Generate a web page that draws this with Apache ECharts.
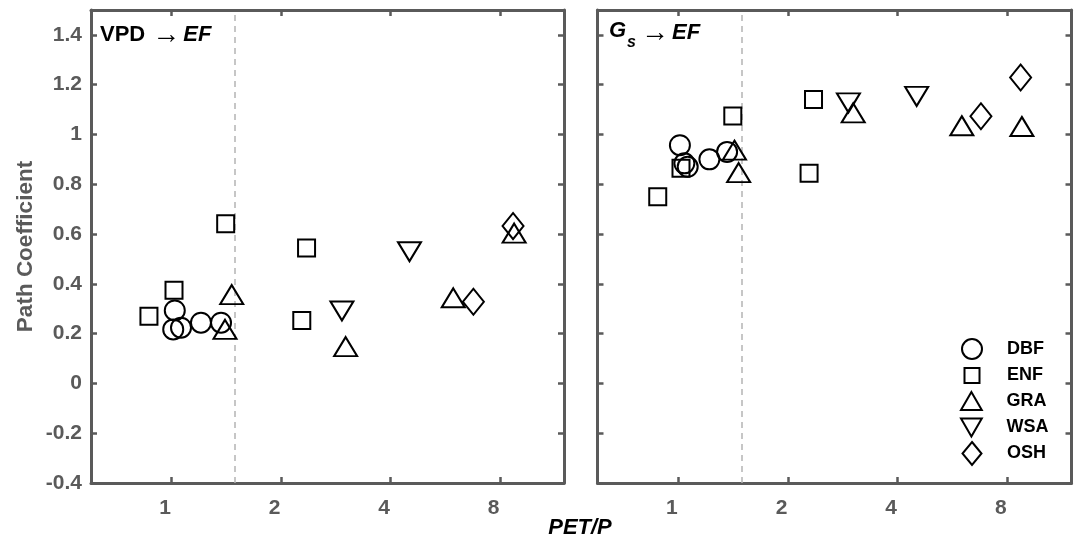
<!DOCTYPE html>
<html><head><meta charset="utf-8">
<script src="https://cdn.jsdelivr.net/npm/echarts@6/dist/echarts.min.js"></script>
<style>html,body{margin:0;padding:0;background:#fff}#c{width:1079px;height:540px}</style>
</head><body><div id="c"></div>
<script>
// ---- axes / ticks ----
const xTickValues = [1, 2, 4, 8];
const yTickValues = [-0.4, -0.2, 0, 0.2, 0.4, 0.6, 0.8, 1, 1.2, 1.4];
const xRange = [0.6, 12];
const yRange = [-0.4, 1.5];
const aridityThreshold = 1.5;
const categories = ['DBF', 'ENF', 'GRA', 'WSA', 'OSH'];

// ---- panel 1: VPD -> EF (x = PET/P, y = path coefficient) ----
const vpdDBFx = [1.02, 1.01, 1.061, 1.204, 1.367];
const vpdDBFy = [0.293, 0.217, 0.224, 0.244, 0.244];
const vpdENFx = [0.866, 1.015, 1.408, 2.35, 2.28];
const vpdENFy = [0.27, 0.374, 0.641, 0.544, 0.253];
const vpdGRAx = [1.463, 1.402, 3.01, 5.95, 8.75];
const vpdGRAy = [0.357, 0.217, 0.148, 0.344, 0.604];
const vpdWSAx = [2.94, 4.51];
const vpdWSAy = [0.291, 0.529];
const vpdOSHx = [6.76, 8.69];
const vpdOSHy = [0.328, 0.632];

// ---- panel 2: Gs -> EF ----
const gsDBFx = [1.01, 1.039, 1.061, 1.217, 1.361];
const gsDBFy = [0.957, 0.884, 0.87, 0.9, 0.93];
const gsENFx = [0.878, 1.017, 1.411, 2.35, 2.285];
const gsENFy = [0.75, 0.864, 1.074, 1.14, 0.844];
const gsGRAx = [1.426, 1.464, 3.02, 6.0, 8.77];
const gsGRAy = [0.937, 0.847, 1.087, 1.035, 1.032];
const gsWSAx = [2.93, 4.51];
const gsWSAy = [1.127, 1.153];
const gsOSHx = [6.77, 8.7];
const gsOSHy = [1.073, 1.229];

const panelData = [
  {DBF: [vpdDBFx, vpdDBFy], ENF: [vpdENFx, vpdENFy], GRA: [vpdGRAx, vpdGRAy], WSA: [vpdWSAx, vpdWSAy], OSH: [vpdOSHx, vpdOSHy]},
  {DBF: [gsDBFx, gsDBFy], ENF: [gsENFx, gsENFy], GRA: [gsGRAx, gsGRAy], WSA: [gsWSAx, gsWSAy], OSH: [gsOSHx, gsOSHy]}
];

const FONT = "'Liberation Sans', Arial, Helvetica, sans-serif";
const AX = '#5a5a5a';
const symbols = {
  DBF: 'circle',
  ENF: 'rect',
  GRA: 'path://M1,0L2,1.732L0,1.732Z',
  WSA: 'path://M0,0L2,0L1,1.732Z',
  OSH: 'diamond'
};
const symbolSizes = {DBF: 20, ENF: 17, GRA: [23, 19], WSA: [23, 19], OSH: [21, 26]};
const legendIcon = {
  DBF: {w: 20, h: 20},
  ENF: {w: 15, h: 15},
  GRA: {w: 22, h: 18},
  WSA: {w: 22, h: 18},
  OSH: {w: 19, h: 23}
};

const lg2 = Math.log2;
const grids = [
  {left: 91, top: 10, width: 473, height: 473},
  {left: 597.5, top: 10, width: 474, height: 473}
];

const xAxes = [], yAxes = [];
grids.forEach((g, gi) => {
  ['bottom', 'top'].forEach(pos => {
    xAxes.push({
      type: 'value', gridIndex: gi, position: pos,
      min: lg2(xRange[0]), max: lg2(xRange[1]),
      axisLine: {show: true, onZero: false, lineStyle: {color: AX, width: 3}},
      axisTick: {show: true, inside: true, length: 6, lineStyle: {color: AX, width: 2.5},
                 customValues: xTickValues.map(lg2)},
      axisLabel: {show: pos === 'bottom', customValues: xTickValues.map(lg2),
                  formatter: v => String(Math.round(Math.pow(2, v))),
                  padding: [0, 13, 0, 0],
                  color: AX, fontFamily: FONT, fontWeight: 'bold', fontSize: 21, margin: 15},
      splitLine: {show: false}
    });
  });
  ['left', 'right'].forEach(pos => {
    yAxes.push({
      type: 'value', gridIndex: gi, position: pos,
      min: yRange[0], max: yRange[1],
      name: (gi === 0 && pos === 'left') ? 'Path Coefficient' : '',
      nameLocation: 'middle', nameGap: 54,
      nameTextStyle: {color: AX, fontFamily: FONT, fontWeight: 'bold', fontSize: 22.5},
      axisLine: {show: true, onZero: false, lineStyle: {color: AX, width: 3}},
      axisTick: {show: true, inside: true, length: 6, lineStyle: {color: AX, width: 2.5},
                 customValues: yTickValues},
      axisLabel: {show: gi === 0 && pos === 'left', customValues: yTickValues,
                  formatter: v => String(Math.round(v * 10) / 10),
                  color: AX, fontFamily: FONT, fontWeight: 'bold', fontSize: 21, margin: 9},
      splitLine: {show: false}
    });
  });
});

const series = [];
panelData.forEach((pd, pi) => {
  categories.forEach((cat, ci) => {
    const xs = pd[cat][0], ys = pd[cat][1];
    const s = {
      type: 'scatter', name: cat,
      xAxisIndex: pi * 2, yAxisIndex: pi * 2,
      symbol: symbols[cat], symbolSize: symbolSizes[cat],
      itemStyle: {color: 'rgba(0,0,0,0)', borderColor: '#000', borderWidth: 2, opacity: 1},
      emphasis: {disabled: true},
      silent: true,
      data: xs.map((x, i) => [lg2(x), ys[i]]),
      z: 3
    };
    if (ci === 0) {
      s.markLine = {
        silent: true, symbol: ['none', 'none'], label: {show: false},
        lineStyle: {color: '#b4b4b4', type: [6, 5], width: 1.5},
        data: [{xAxis: lg2(aridityThreshold)}],
        z: 1
      };
    }
    series.push(s);
  });
});

// Legend: one small legend per entry so each icon gets its own size
const legendCenterX = 971, legendTextX = 1006;
const legendRowY = [348, 374, 400, 426.5, 452.5];
const legends = categories.map((cat, i) => {
  const ic = legendIcon[cat];
  return {
    data: [{name: cat, icon: symbols[cat]}],
    left: legendCenterX - ic.w / 2, top: legendRowY[i] - ic.h / 2,
    orient: 'vertical', padding: 0, selectedMode: false,
    itemWidth: ic.w, itemHeight: ic.h,
    itemStyle: {color: 'rgba(0,0,0,0)', borderColor: '#000', borderWidth: 2},
    textStyle: {color: '#000', fontFamily: FONT, fontWeight: 'bold', fontSize: 18,
                padding: [0, 0, 0, legendTextX - (legendCenterX + ic.w / 2 + 5)]}
  };
});

const graphic = [
  {type: 'text', left: 100, top: 21, silent: true,
   style: {text: '{b|VPD}{a|→}{i|EF}', fontFamily: FONT,
     rich: {
       b: {fontSize: 22, fontWeight: 'bold', fill: '#000', fontFamily: FONT},
       a: {fontSize: 28, fontWeight: 'normal', fill: '#000', fontFamily: FONT, padding: [0, 3, 0, 7]},
       i: {fontSize: 22, fontWeight: 'bold', fontStyle: 'italic', fill: '#000', fontFamily: FONT}
     }}},
  {type: 'text', left: 609, top: 20, silent: true,
   style: {text: 'G', fontSize: 22, fontWeight: 'bold', fontStyle: 'italic', fill: '#000', fontFamily: FONT}},
  {type: 'text', left: 627, top: 35, silent: true,
   style: {text: 's', fontSize: 16, fontWeight: 'bold', fontStyle: 'italic', fill: '#000', fontFamily: FONT}},
  {type: 'text', left: 641, top: 19, silent: true,
   style: {text: '{a|→}{i|EF}', fontFamily: FONT,
     rich: {
       a: {fontSize: 28, fontWeight: 'normal', fill: '#000', fontFamily: FONT, padding: [0, 3, 0, 0]},
       i: {fontSize: 22, fontWeight: 'bold', fontStyle: 'italic', fill: '#000', fontFamily: FONT}
     }}},
  {type: 'text', x: 580, y: 528, silent: true,
   style: {text: 'PET/P', align: 'center', verticalAlign: 'middle', fontSize: 22, fontWeight: 'bold',
           fontStyle: 'italic', fill: '#000', fontFamily: FONT}}
];

const chart = echarts.init(document.getElementById('c'), null, {renderer: 'canvas'});
chart.setOption({
  animation: false,
  backgroundColor: '#fff',
  grid: grids,
  xAxis: xAxes,
  yAxis: yAxes,
  legend: legends,
  series: series,
  graphic: graphic
});
</script>
</body></html>
